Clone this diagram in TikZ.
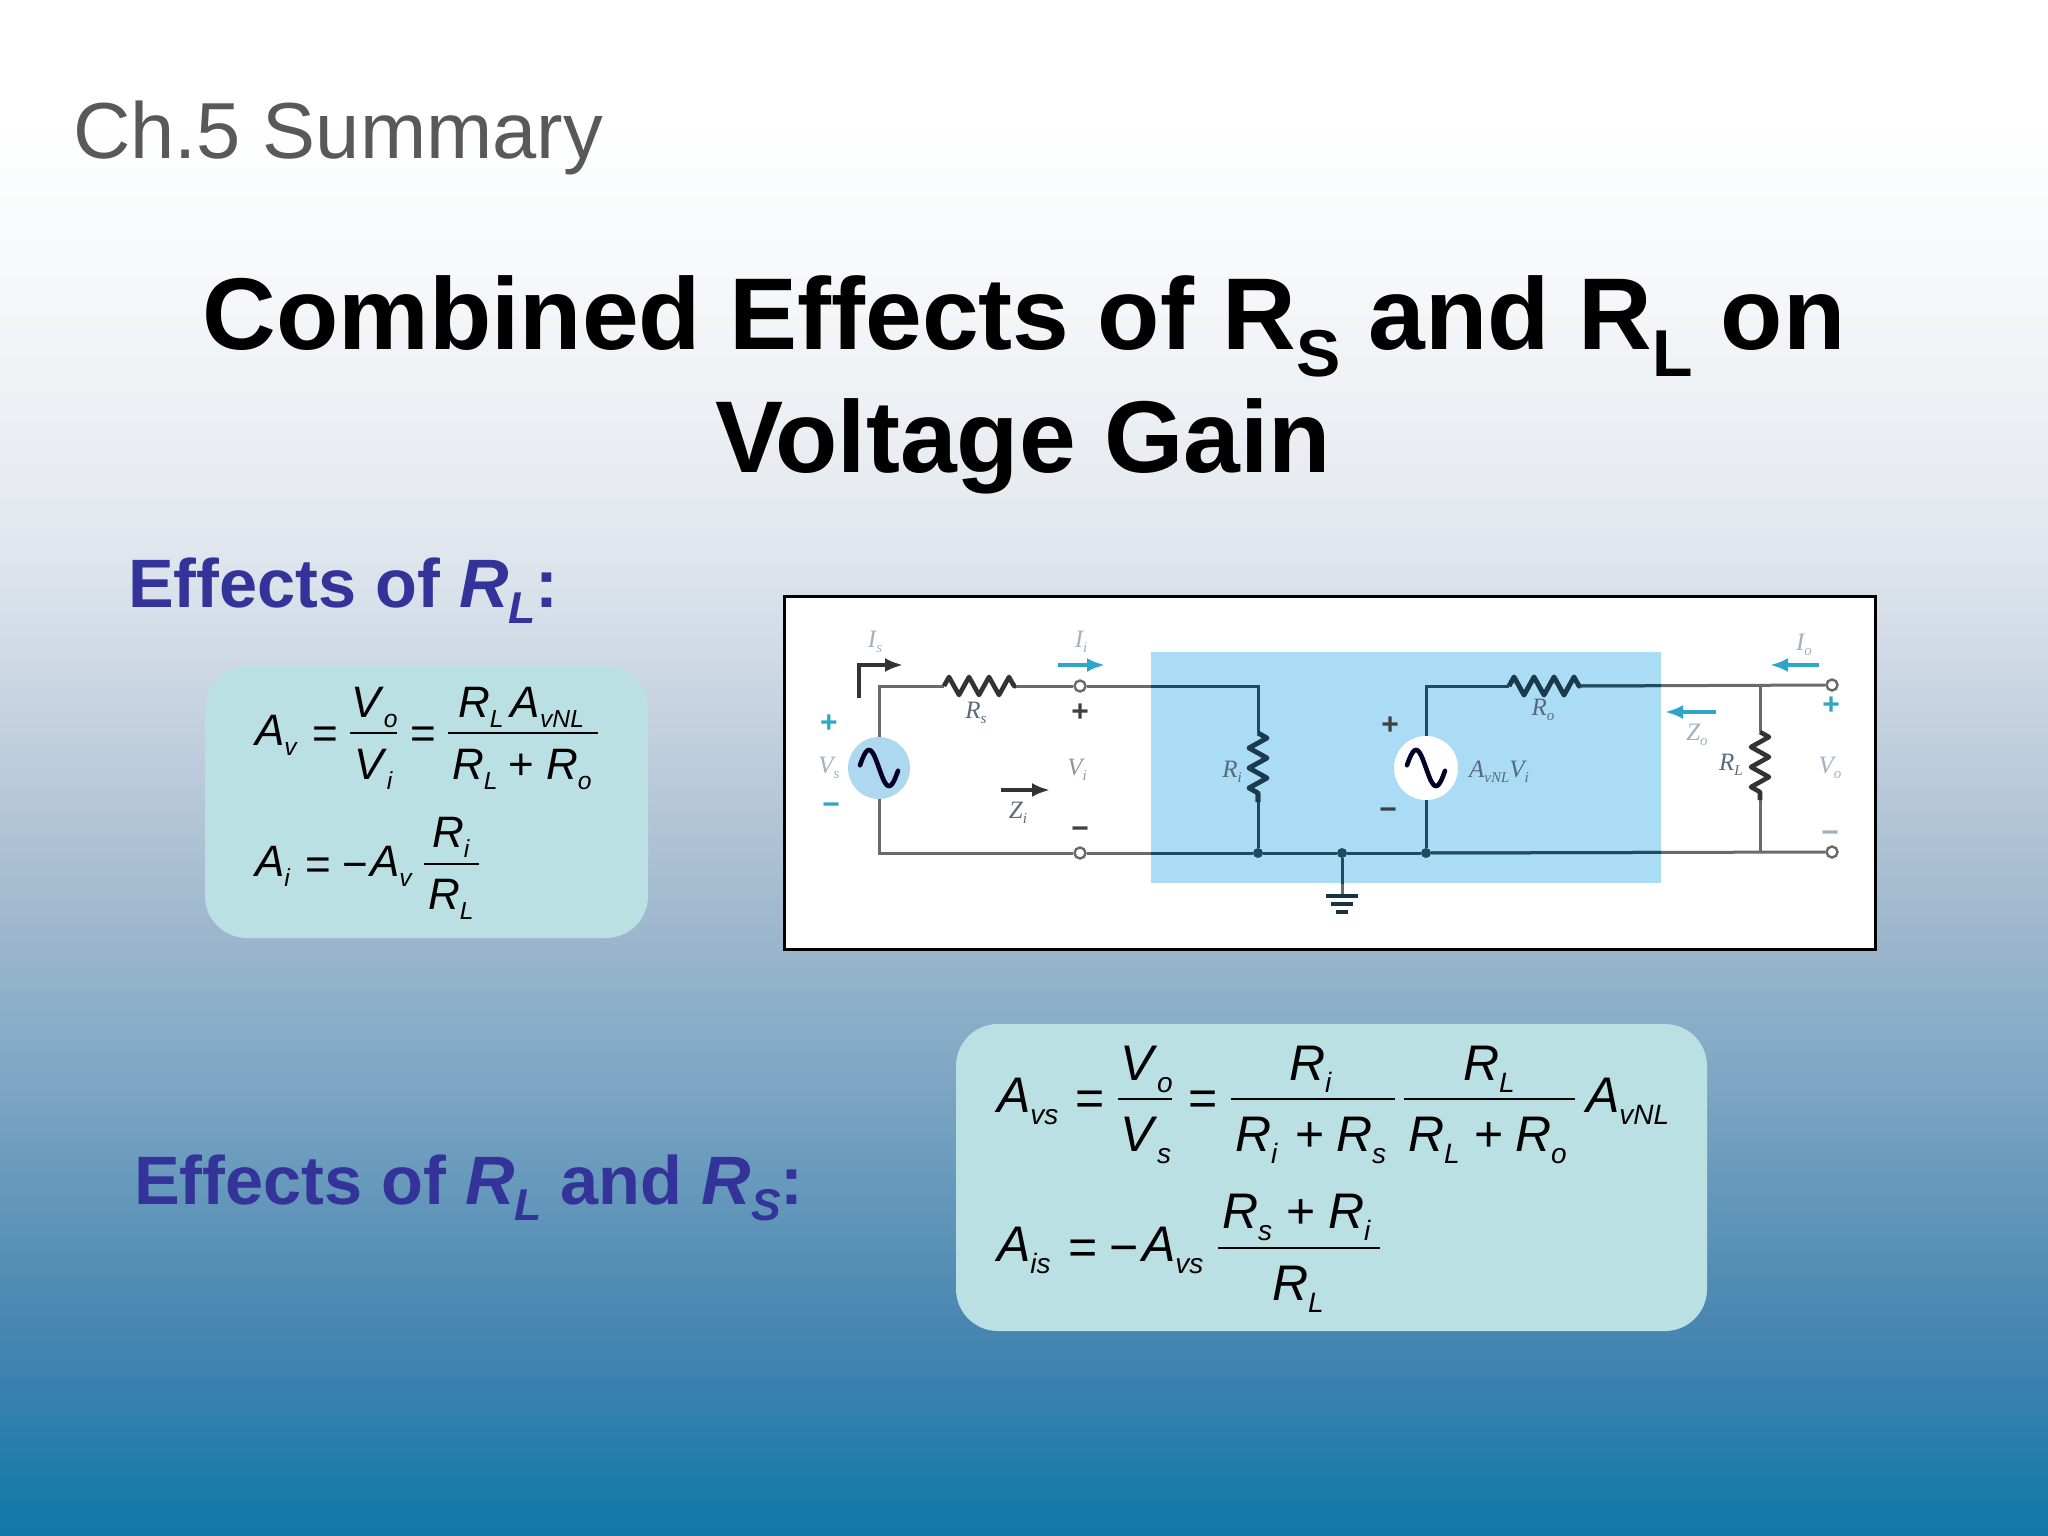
\documentclass[tikz,border=0pt]{standalone}
\usepackage{fontspec}
\usepackage{graphicx}
\setmainfont{Liberation Sans}
\newfontfamily\circfont{Liberation Serif}
\usetikzlibrary{decorations.pathmorphing,arrows.meta}
\definecolor{bgA}{HTML}{FFFFFF}
\definecolor{bgAB}{HTML}{F4F6F8}
\definecolor{bgB}{HTML}{E4E9EF}
\definecolor{bgC}{HTML}{CFD9E5}
\definecolor{bgD}{HTML}{99B4CB}
\definecolor{bgE}{HTML}{8AAEC8}
\definecolor{bgF}{HTML}{4585B0}
\definecolor{bgG}{HTML}{0F78A8}
\definecolor{boxfill}{HTML}{BAE0E3}
\definecolor{effcol}{HTML}{333399}
\definecolor{chcol}{HTML}{595959}
\definecolor{panelblue}{HTML}{ABDCF5}
\definecolor{srcblue}{HTML}{AED8F0}
\definecolor{wiregray}{HTML}{6A6A6A}
\definecolor{wiredark}{HTML}{1F4A60}
\definecolor{cyanarrow}{HTML}{2FA6C8}
\definecolor{fainttxt}{HTML}{9FB2C0}
\definecolor{softtxt}{HTML}{5A6A78}
\pgfdeclareverticalshading{slidebg}{100bp}{
 color(0bp)=(bgG); color(25bp)=(bgG); color(31.4bp)=(bgF); color(41.8bp)=(bgE);
 color(44bp)=(bgD); color(53.5bp)=(bgC); color(58bp)=(bgB); color(65bp)=(bgAB); color(71bp)=(bgA); color(100bp)=(bgA)}
\newcommand\SubT[2]{\textit{#1}\raisebox{-.24em}{\scalebox{.56}{\textit{#2}}}}
\newcommand\circuitwires[2]{%
 \draw[#1] (s1.north) -- (tl) -- (rsa);
 \draw[#1] (rsb) -- (t1);
 \draw[#1] (t1) -- (tr1) -- (ria);
 \draw[#1] (rib) -- (d1);
 \draw[#1] (s1.south) -- (bl) -- (t2);
 \draw[#1] (t2) -- (d1);
 \draw[#1] (d1) -- (d2);
 \draw[#1] (d2) -- (d3);
 \draw[#1] (d3) -- (t4);
 \draw[#1] (d2) -- (gnd);
 \draw[#1] (d3) -- (s2.south);
 \draw[#1] (s2.north) -- (tr2) -- (roa);
 \draw[#1] (rob) -- (t3);
 \draw[#1] (rla) -- (jr);
 \draw[#1] (rlb) -- (jrb);
 \draw[#2] (rsa) -- (rsb);
 \draw[#2] (ria) -- (rib);
 \draw[#2] (roa) -- (rob);
 \draw[#2] (rla) -- (rlb);
}
\tikzset{
 txt/.style={inner sep=0pt,outer sep=0pt,anchor=base west},
 ctr/.style={inner sep=0pt,outer sep=0pt,anchor=base},
 eqa/.style={txt,font=\fontsize{44pt}{50pt}\selectfont},
 eqac/.style={ctr,font=\fontsize{44pt}{50pt}\selectfont},
 eqb/.style={txt,font=\fontsize{50pt}{56pt}\selectfont},
 eqbc/.style={ctr,font=\fontsize{50pt}{56pt}\selectfont},
 fracl/.style={draw=black,line width=1.6pt},
 eqbox/.style={fill=boxfill,rounded corners=42pt},
 mainT/.style={ctr,font=\fontsize{102pt}{110pt}\selectfont\bfseries,text=black},
 eff/.style={txt,font=\fontsize{68.5pt}{75pt}\selectfont\bfseries,text=effcol},
 wire/.style={line width=3pt,line join=miter},
 zig/.style={line width=4.6pt,line join=round,decorate,decoration={zigzag,segment length=20pt,amplitude=9pt}},
 term/.style={circle,draw=wiregray,fill=white,line width=2.4pt,minimum size=11pt,inner sep=0pt},
 jdot/.style={circle,minimum size=10pt,inner sep=0pt,fill=wiredark},
 srcn/.style={circle,minimum size=62pt,inner sep=0pt},
 sinew/.style={line width=4.6pt,line cap=round,draw=black!85!blue},
 darrow/.style={line width=3.6pt,-{Latex[length=18pt,width=14pt]}},
 lab/.style={inner sep=0pt,outer sep=0pt,font=\fontsize{25pt}{27pt}\selectfont\circfont\itshape},
 sgn/.style={inner sep=0pt,outer sep=0pt,font=\fontsize{30pt}{32pt}\selectfont\bfseries},
}
\begin{document}
\begin{tikzpicture}[x=1pt,y=-1pt]
\useasboundingbox (0,0) rectangle (2048,1536);
\shade[shading=slidebg] (0,0) rectangle (2048,1536);

\node[txt,font=\fontsize{79.5pt}{84pt}\selectfont,text=chcol] (chtitle) at (73,159) {Ch.5 Summary};
\node[mainT] (title1) at (1024,349) {Combined Effects of R\raisebox{-.27em}{\scalebox{.65}{S}} and R\raisebox{-.27em}{\scalebox{.65}{L}} on};
\node[mainT] (title2) at (1023,472) {Voltage Gain};
\node[eff] (eff1) at (128,607) {Effects of \textit{R}\raisebox{-.24em}{\scalebox{.65}{\textit{L}}}:};
\node[eff] (eff2) at (134,1204) {Effects of \textit{R}\raisebox{-.24em}{\scalebox{.65}{\textit{L}}} and \textit{R}\raisebox{-.24em}{\scalebox{.65}{\textit{S}}}:};

% equation box 1
\fill[eqbox] (205,666) rectangle (648,938);
\node[eqa] (a1) at (255,745) {\SubT{A}{v}};
\node[eqac] (a2) at (325,748) {=};
\draw[fracl] (350,733) -- (397,733);
\node[eqa] (a3) at (351,717) {\SubT{V}{o}};
\node[eqa] (a4) at (354,779) {\SubT{V}{i}};
\node[eqac] (a5) at (423,748) {=};
\draw[fracl] (448,733) -- (598,733);
\node[eqa] (a6) at (458,717) {\SubT{R}{L}\,\SubT{A}{vNL}};
\node[eqa] (a7) at (452,779) {\SubT{R}{L}};
\node[eqac] (a8) at (521,779) {+};
\node[eqa] (a9) at (546,779) {\SubT{R}{o}};
\node[eqa] (a10) at (255,876) {\SubT{A}{i}};
\node[eqac] (a11) at (318,879) {=};
\node[eqac] (a12) at (355,879) {−};
\node[eqa] (a13) at (370,876) {\SubT{A}{v}};
\draw[fracl] (424,864) -- (479,864);
\node[eqa] (a14) at (432,847) {\SubT{R}{i}};
\node[eqa] (a15) at (428,909) {\SubT{R}{L}};

% equation box 2
\fill[eqbox] (956,1024) rectangle (1707,1331);
\node[eqb] (b1) at (997,1112) {\SubT{A}{vs}};
\node[eqbc] (b2) at (1090,1115) {=};
\draw[fracl] (1118,1099) -- (1172,1099);
\node[eqb] (b3) at (1120,1080) {\SubT{V}{o}};
\node[eqb] (b4) at (1120,1151) {\SubT{V}{s}};
\node[eqbc] (b5) at (1203,1115) {=};
\draw[fracl] (1231,1099) -- (1395,1099);
\node[eqb] (b6) at (1289,1080) {\SubT{R}{i}};
\node[eqb] (b7) at (1235,1151) {\SubT{R}{i}};
\node[eqbc] (b8) at (1310,1151) {+};
\node[eqb] (b9) at (1336,1151) {\SubT{R}{s}};
\draw[fracl] (1404,1099) -- (1575,1099);
\node[eqb] (b10) at (1463,1080) {\SubT{R}{L}};
\node[eqb] (b11) at (1408,1151) {\SubT{R}{L}};
\node[eqbc] (b12) at (1489,1151) {+};
\node[eqb] (b13) at (1515,1151) {\SubT{R}{o}};
\node[eqb] (b14) at (1586,1112) {\SubT{A}{vNL}};
\node[eqb] (b15) at (997,1261) {\SubT{A}{is}};
\node[eqbc] (b16) at (1083,1264) {=};
\node[eqbc] (b17) at (1124,1264) {−};
\node[eqb] (b18) at (1142,1261) {\SubT{A}{vs}};
\draw[fracl] (1218,1248) -- (1380,1248);
\node[eqb] (b19) at (1222,1228) {\SubT{R}{s}};
\node[eqbc] (b20) at (1301,1228) {+};
\node[eqb] (b21) at (1328,1228) {\SubT{R}{i}};
\node[eqb] (b22) at (1272,1300) {\SubT{R}{L}};

% circuit panel
\fill[white] (784,596) rectangle (1875,949);
\fill[panelblue] (1151,652) rectangle (1661,883);

\coordinate (tl) at (879,686);
\coordinate (bl) at (879,853);
\coordinate (rsa) at (944,686);
\coordinate (rsb) at (1016,686);
\coordinate (tr1) at (1258,686);
\coordinate (ria) at (1258,733);
\coordinate (rib) at (1258,802);
\coordinate (gnd) at (1342,896);
\coordinate (tr2) at (1426,686);
\coordinate (roa) at (1509,686);
\coordinate (rob) at (1580,686);
\coordinate (jr) at (1760,686);
\coordinate (jrb) at (1760,852);
\coordinate (rla) at (1760,732);
\coordinate (rlb) at (1760,800);

\node[srcn,fill=srcblue] (s1) at (879,768) {};
\node[srcn,fill=white,minimum size=64pt] (s2) at (1426,768) {};
\node[term] (t1) at (1080,686) {};
\node[term] (t2) at (1080,853) {};
\node[term] (t3) at (1832,685) {};
\node[term] (t4) at (1832,852) {};
\node[jdot] (d1) at (1258,853) {};
\node[jdot] (d2) at (1342,853) {};
\node[jdot] (d3) at (1426,853) {};

\circuitwires{wire,draw=wiregray}{zig,draw=black!80}
\begin{scope}
 \clip (1151,652) rectangle (1661,883);
 \circuitwires{wire,draw=wiredark}{zig,draw=wiredark!80!black}
\end{scope}

% sine waves
\draw[sinew,shift={(s1.center)}] plot[domain=-.95:.95,samples=40,smooth] (20*\x,{18*sin(180*\x)});
\draw[sinew,shift={(s2.center)}] plot[domain=-.95:.95,samples=40,smooth] (20*\x,{18*sin(180*\x)});

% ground
\coordinate (g1a) at (1326,896); \coordinate (g1b) at (1358,896);
\coordinate (g2a) at (1331,904); \coordinate (g2b) at (1353,904);
\coordinate (g3a) at (1336,912); \coordinate (g3b) at (1348,912);
\draw[line width=4.5pt,draw=wiredark!70!black] (g1a) -- (g1b);
\draw[line width=4.5pt,draw=wiredark!70!black] (g2a) -- (g2b);
\draw[line width=4.5pt,draw=wiredark!70!black] (g3a) -- (g3b);

% arrows
\coordinate (isa) at (859,698); \coordinate (isc) at (859,665); \coordinate (isb) at (903,665);
\draw[darrow,draw=black!80] (isa) -- (isc) -- (isb);
\coordinate (iia) at (1058,665); \coordinate (iib) at (1105,665);
\draw[darrow,draw=cyanarrow] (iia) -- (iib);
\coordinate (zia) at (1001,790); \coordinate (zib) at (1050,790);
\draw[darrow,draw=black!80] (zia) -- (zib);
\coordinate (zoa) at (1716,712); \coordinate (zob) at (1665,712);
\draw[darrow,draw=cyanarrow] (zoa) -- (zob);
\coordinate (ioa) at (1819,665); \coordinate (iob) at (1770,665);
\draw[darrow,draw=cyanarrow] (ioa) -- (iob);

% circuit labels
\node[lab,text=fainttxt] (lIs) at (875,642) {I\raisebox{-.2em}{\scalebox{.6}{s}}};
\node[lab,text=fainttxt] (lIi) at (1081,642) {I\raisebox{-.2em}{\scalebox{.6}{i}}};
\node[lab,text=fainttxt] (lIo) at (1804,645) {I\raisebox{-.2em}{\scalebox{.6}{o}}};
\node[lab,text=softtxt] (lRs) at (976,713) {R\raisebox{-.2em}{\scalebox{.6}{s}}};
\node[lab,text=softtxt] (lRi) at (1232,772) {R\raisebox{-.2em}{\scalebox{.6}{i}}};
\node[lab,text=softtxt] (lRo) at (1543,710) {R\raisebox{-.2em}{\scalebox{.6}{o}}};
\node[lab,text=softtxt] (lRL) at (1731,765) {R\raisebox{-.2em}{\scalebox{.6}{L}}};
\node[lab,text=fainttxt] (lVs) at (829,768) {V\raisebox{-.2em}{\scalebox{.6}{s}}};
\node[lab,text=softtxt!70] (lVi) at (1077,770) {V\raisebox{-.2em}{\scalebox{.6}{i}}};
\node[lab,text=fainttxt] (lVo) at (1830,768) {V\raisebox{-.2em}{\scalebox{.6}{o}}};
\node[lab,text=softtxt] (lZi) at (1018,813) {Z\raisebox{-.2em}{\scalebox{.6}{i}}};
\node[lab,text=fainttxt] (lZo) at (1697,735) {Z\raisebox{-.2em}{\scalebox{.6}{o}}};
\node[lab,text=softtxt] (lAv) at (1499,772) {A\raisebox{-.2em}{\scalebox{.6}{vNL}}V\raisebox{-.2em}{\scalebox{.6}{i}}};
\node[sgn,text=cyanarrow] (sp1) at (829,724) {+};
\node[sgn,text=cyanarrow] (sm1) at (831,809) {−};
\node[sgn,text=black!75] (sp2) at (1080,713) {+};
\node[sgn,text=black!75] (sm2) at (1080,833) {−};
\node[sgn,text=black!75] (sp3) at (1390,726) {+};
\node[sgn,text=black!75] (sm3) at (1388,814) {−};
\node[sgn,text=cyanarrow] (sp4) at (1831,706) {+};
\node[sgn,text=fainttxt] (sm4) at (1830,837) {−};

% frame
\draw[line width=3pt,draw=black] (784,596) rectangle (1875,949);
\end{tikzpicture}
\end{document}
